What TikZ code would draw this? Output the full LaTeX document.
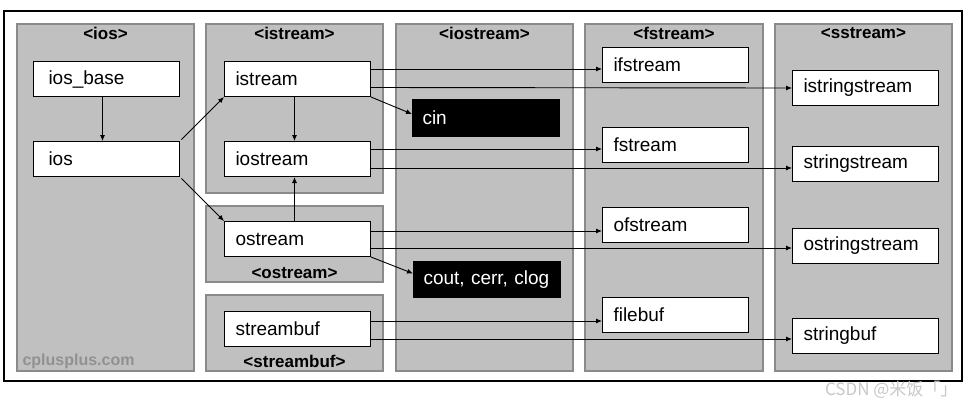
\documentclass[tikz,border=0pt]{standalone}
\usepackage{fontspec}
\setmainfont{Liberation Sans}
\newfontfamily\cjk{Noto Sans CJK SC}
\usetikzlibrary{arrows.meta}

\definecolor{panelgray}{RGB}{192,192,192}
\definecolor{paneledge}{RGB}{138,138,138}
\definecolor{markgray}{RGB}{145,145,145}
\definecolor{csdngray}{RGB}{200,200,200}

\begin{document}
\begin{tikzpicture}[x=1pt, y=-1pt,
    panel/.style={draw=paneledge, fill=panelgray, line width=2.5pt},
    title/.style={font=\fontsize{17}{19}\selectfont\bfseries, inner sep=0pt},
    box/.style={draw=black, fill=white, line width=1pt, anchor=north west,
      minimum height=35pt, text width=124pt, inner xsep=11pt, inner ysep=0pt,
      align=left, font=\fontsize{19}{22}\selectfont},
    objbox/.style={box, fill=black, text=white, minimum height=37pt,
      text width=127pt, inner xsep=10pt},
    arr/.style={-{Latex[length=6pt,width=5pt]}, line width=0.9pt}]

    % Page and outer frame
    \useasboundingbox (0,0) rectangle (972,408);
    \fill[white] (0,0) rectangle (972,408);
    \draw[line width=1.5pt] (4,11) rectangle (962,381);

    % Header panels
    \draw[panel] (17,24) rectangle (194,371);
    \draw[panel] (206,24) rectangle (383,193);
    \draw[panel] (206,206) rectangle (383,282);
    \draw[panel] (206,295) rectangle (383,371);
    \draw[panel] (396,24) rectangle (573,371);
    \draw[panel] (585,24) rectangle (763,371);
    \draw[panel] (775,24) rectangle (952,371);

    % Header names
    \node[title] (tios) at (105.5,33) {<ios>};
    \node[title] (tistream) at (294.5,33) {<istream>};
    \node[title] (tiostream) at (484.5,33) {<iostream>};
    \node[title] (tfstream) at (674,33) {<fstream>};
    \node[title] (tsstream) at (863.5,33) {<sstream>};
    \node[title] (tostream) at (294.5,273) {<ostream>};
    \node[title] (tstreambuf) at (294.5,361) {<streambuf>};

    % Classes
    \node[box, text width=116pt, inner xsep=15pt] (iosbase) at (33,61) {ios\_base};
    \node[box, text width=116pt, inner xsep=15pt] (ios) at (33,141) {ios};
    \node[box] (istream) at (224,61) {istream};
    \node[box] (iostream) at (224,141) {iostream};
    \node[box] (ostream) at (224,221) {ostream};
    \node[box] (streambuf) at (224,311) {streambuf};
    \node[box] (ifstream) at (602,47) {ifstream};
    \node[box] (fstream) at (602,127) {fstream};
    \node[box] (ofstream) at (602,207) {ofstream};
    \node[box] (filebuf) at (602,297) {filebuf};
    \node[box] (istringstream) at (792,70) {istringstream};
    \node[box] (stringstream) at (792,146) {stringstream};
    \node[box] (ostringstream) at (792,228) {ostringstream};
    \node[box] (stringbuf) at (792,318) {stringbuf};

    % Objects
    \node[objbox] (cin) at (412,99) {cin};
    \node[objbox, minimum height=36pt] (cout) at (413,261) {cout, cerr, clog};

    % Inheritance arrows
    \draw[arr] ([xshift=-4pt]iosbase.south) -- ([xshift=-4pt]ios.north);
    \draw[arr, shorten <=2pt] (ios.north east) -- (istream.south west);
    \draw[arr, shorten <=2pt] (ios.south east) -- (ostream.north west);
    \draw[arr] ([xshift=-3pt]istream.south) -- ([xshift=-3pt]iostream.north);
    \draw[arr] ([xshift=-3pt]ostream.north) -- ([xshift=-3pt]iostream.south);
    \draw[arr] ([yshift=-8pt]istream.north east) -- ([yshift=-22pt]ifstream.north west);
    \draw[arr] ([yshift=-26.5pt]istream.north east) -- (istringstream.west);
    \draw[arr] ([yshift=-8pt]iostream.north east) -- ([yshift=-22pt]fstream.north west);
    \draw[arr] ([yshift=-27pt]iostream.north east) -- ([yshift=-22pt]stringstream.north west);
    \draw[arr] ([yshift=-10pt]ostream.north east) -- ([yshift=-24pt]ofstream.north west);
    \draw[arr] ([yshift=-27pt]ostream.north east) -- ([yshift=-20pt]ostringstream.north west);
    \draw[arr] ([yshift=-10pt]streambuf.north east) -- ([yshift=-24pt]filebuf.north west);
    \draw[arr] ([yshift=-28pt]streambuf.north east) -- ([yshift=-21pt]stringbuf.north west);

    % Object arrows
    \draw[arr] (istream.south east) -- ([yshift=4pt]cin.west);
    \draw[arr] (ostream.south east) -- ([yshift=6pt]cout.west);

    % Watermarks
    \node[text=markgray, font=\fontsize{16}{18}\selectfont\bfseries, anchor=west] (site) at (19,361) {cplusplus.com};
    \node[text=csdngray, font=\cjk\fontsize{17}{19}\selectfont, anchor=east] (csdn) at (961,390) {CSDN @米饭「」};
\end{tikzpicture}
\end{document}
